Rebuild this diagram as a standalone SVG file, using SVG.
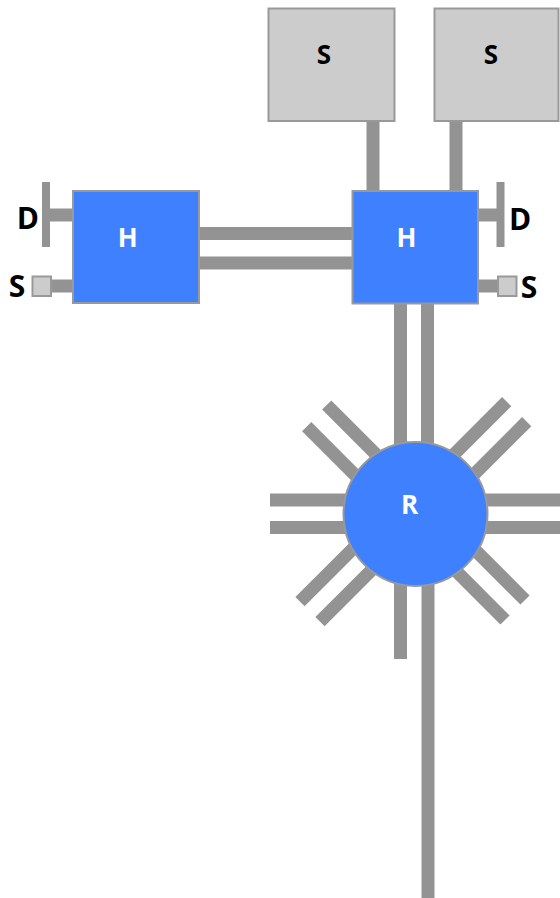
<svg xmlns="http://www.w3.org/2000/svg" width="560" height="898" viewBox="0 0 560 898">
<style>
.c{stroke:#939393;stroke-width:13;fill:none;stroke-linecap:butt}
.bar{stroke:#939393;stroke-width:8;fill:none}
.blue{fill:#3f80ff;stroke:#999999;stroke-width:2}
.gray{fill:#cccccc;stroke:#999999;stroke-width:2}
.sm{fill:#cccccc;stroke:#999999;stroke-width:2}
.lw{font-family:"Open Sans","Noto Sans",sans-serif;font-weight:700;font-size:26px;fill:#ffffff;text-anchor:middle}
.lb{font-family:"Open Sans","Noto Sans",sans-serif;font-weight:700;font-size:30px;fill:#000000;text-anchor:middle}
.lk{font-family:"Open Sans","Noto Sans",sans-serif;font-weight:700;font-size:26px;fill:#000000;text-anchor:middle}
</style>
<rect width="560" height="898" fill="#ffffff"/>
<g id="connectors">
<line class="c" x1="373" y1="120" x2="373" y2="192"/>
<line class="c" x1="456" y1="120" x2="456" y2="192"/>
<line class="c" x1="198" y1="233.5" x2="353" y2="233.5"/>
<line class="c" x1="198" y1="263" x2="353" y2="263"/>
<line class="c" x1="50" y1="215" x2="74" y2="215"/>
<line class="bar" x1="46" y1="182" x2="46" y2="247"/>
<line class="c" x1="50" y1="286" x2="74" y2="286"/>
<line class="c" x1="477" y1="215" x2="500" y2="215"/>
<line class="bar" x1="500.5" y1="182" x2="500.5" y2="247"/>
<line class="c" x1="477" y1="286" x2="499" y2="286"/>
<line class="c" x1="400.5" y1="303" x2="400.5" y2="514"/>
<line class="c" x1="427.5" y1="303" x2="427.5" y2="514"/>
<line class="c" x1="400.5" y1="514" x2="400.5" y2="659"/>
<line class="c" x1="428" y1="514" x2="428" y2="898"/>
<line class="c" x1="270" y1="500" x2="415" y2="500"/>
<line class="c" x1="270" y1="527.5" x2="415" y2="527.5"/>
<line class="c" x1="415" y1="500" x2="560" y2="500"/>
<line class="c" x1="415" y1="527.5" x2="560" y2="527.5"/>
<line class="c" x1="326.7" y1="405" x2="404.5" y2="482.8"/>
<line class="c" x1="306.7" y1="426.7" x2="384.5" y2="504.5"/>
<line class="c" x1="506.7" y1="401.7" x2="428.9" y2="479.5"/>
<line class="c" x1="526.7" y1="421.7" x2="448.9" y2="499.5"/>
<line class="c" x1="300" y1="601.7" x2="377.8" y2="523.9"/>
<line class="c" x1="320" y1="621.7" x2="397.8" y2="543.9"/>
<line class="c" x1="525" y1="600" x2="447.2" y2="522.2"/>
<line class="c" x1="505" y1="620" x2="427.2" y2="542.2"/>
</g>
<g id="s-top-left">
<rect class="gray" x="268.5" y="8.5" width="126" height="112.5"/>
<text class="lk" x="324" y="64">S</text>
</g>
<g id="s-top-right">
<rect class="gray" x="434.5" y="8.5" width="124" height="112.5"/>
<text class="lk" x="491" y="64">S</text>
</g>
<g id="h-left">
<rect class="blue" x="73" y="191" width="126" height="112"/>
<text class="lw" x="127.7" y="246.5">H</text>
</g>
<g id="h-right">
<rect class="blue" x="352.5" y="191" width="125.5" height="112.5"/>
<text class="lw" x="406.5" y="246.5">H</text>
</g>
<g id="r">
<circle class="blue" cx="415.5" cy="514" r="72"/>
<text class="lw" x="409.7" y="514">R</text>
</g>
<g id="d-left">
<text class="lb" x="27.8" y="229">D</text>
</g>
<g id="s-left">
<rect class="sm" x="32.5" y="276.5" width="18.5" height="19.5"/>
<text class="lb" x="17" y="297">S</text>
</g>
<g id="d-right">
<text class="lb" x="520" y="229.5">D</text>
</g>
<g id="s-right">
<rect class="sm" x="498" y="276.5" width="18.5" height="19.5"/>
<text class="lb" x="529" y="298">S</text>
</g>
</svg>
